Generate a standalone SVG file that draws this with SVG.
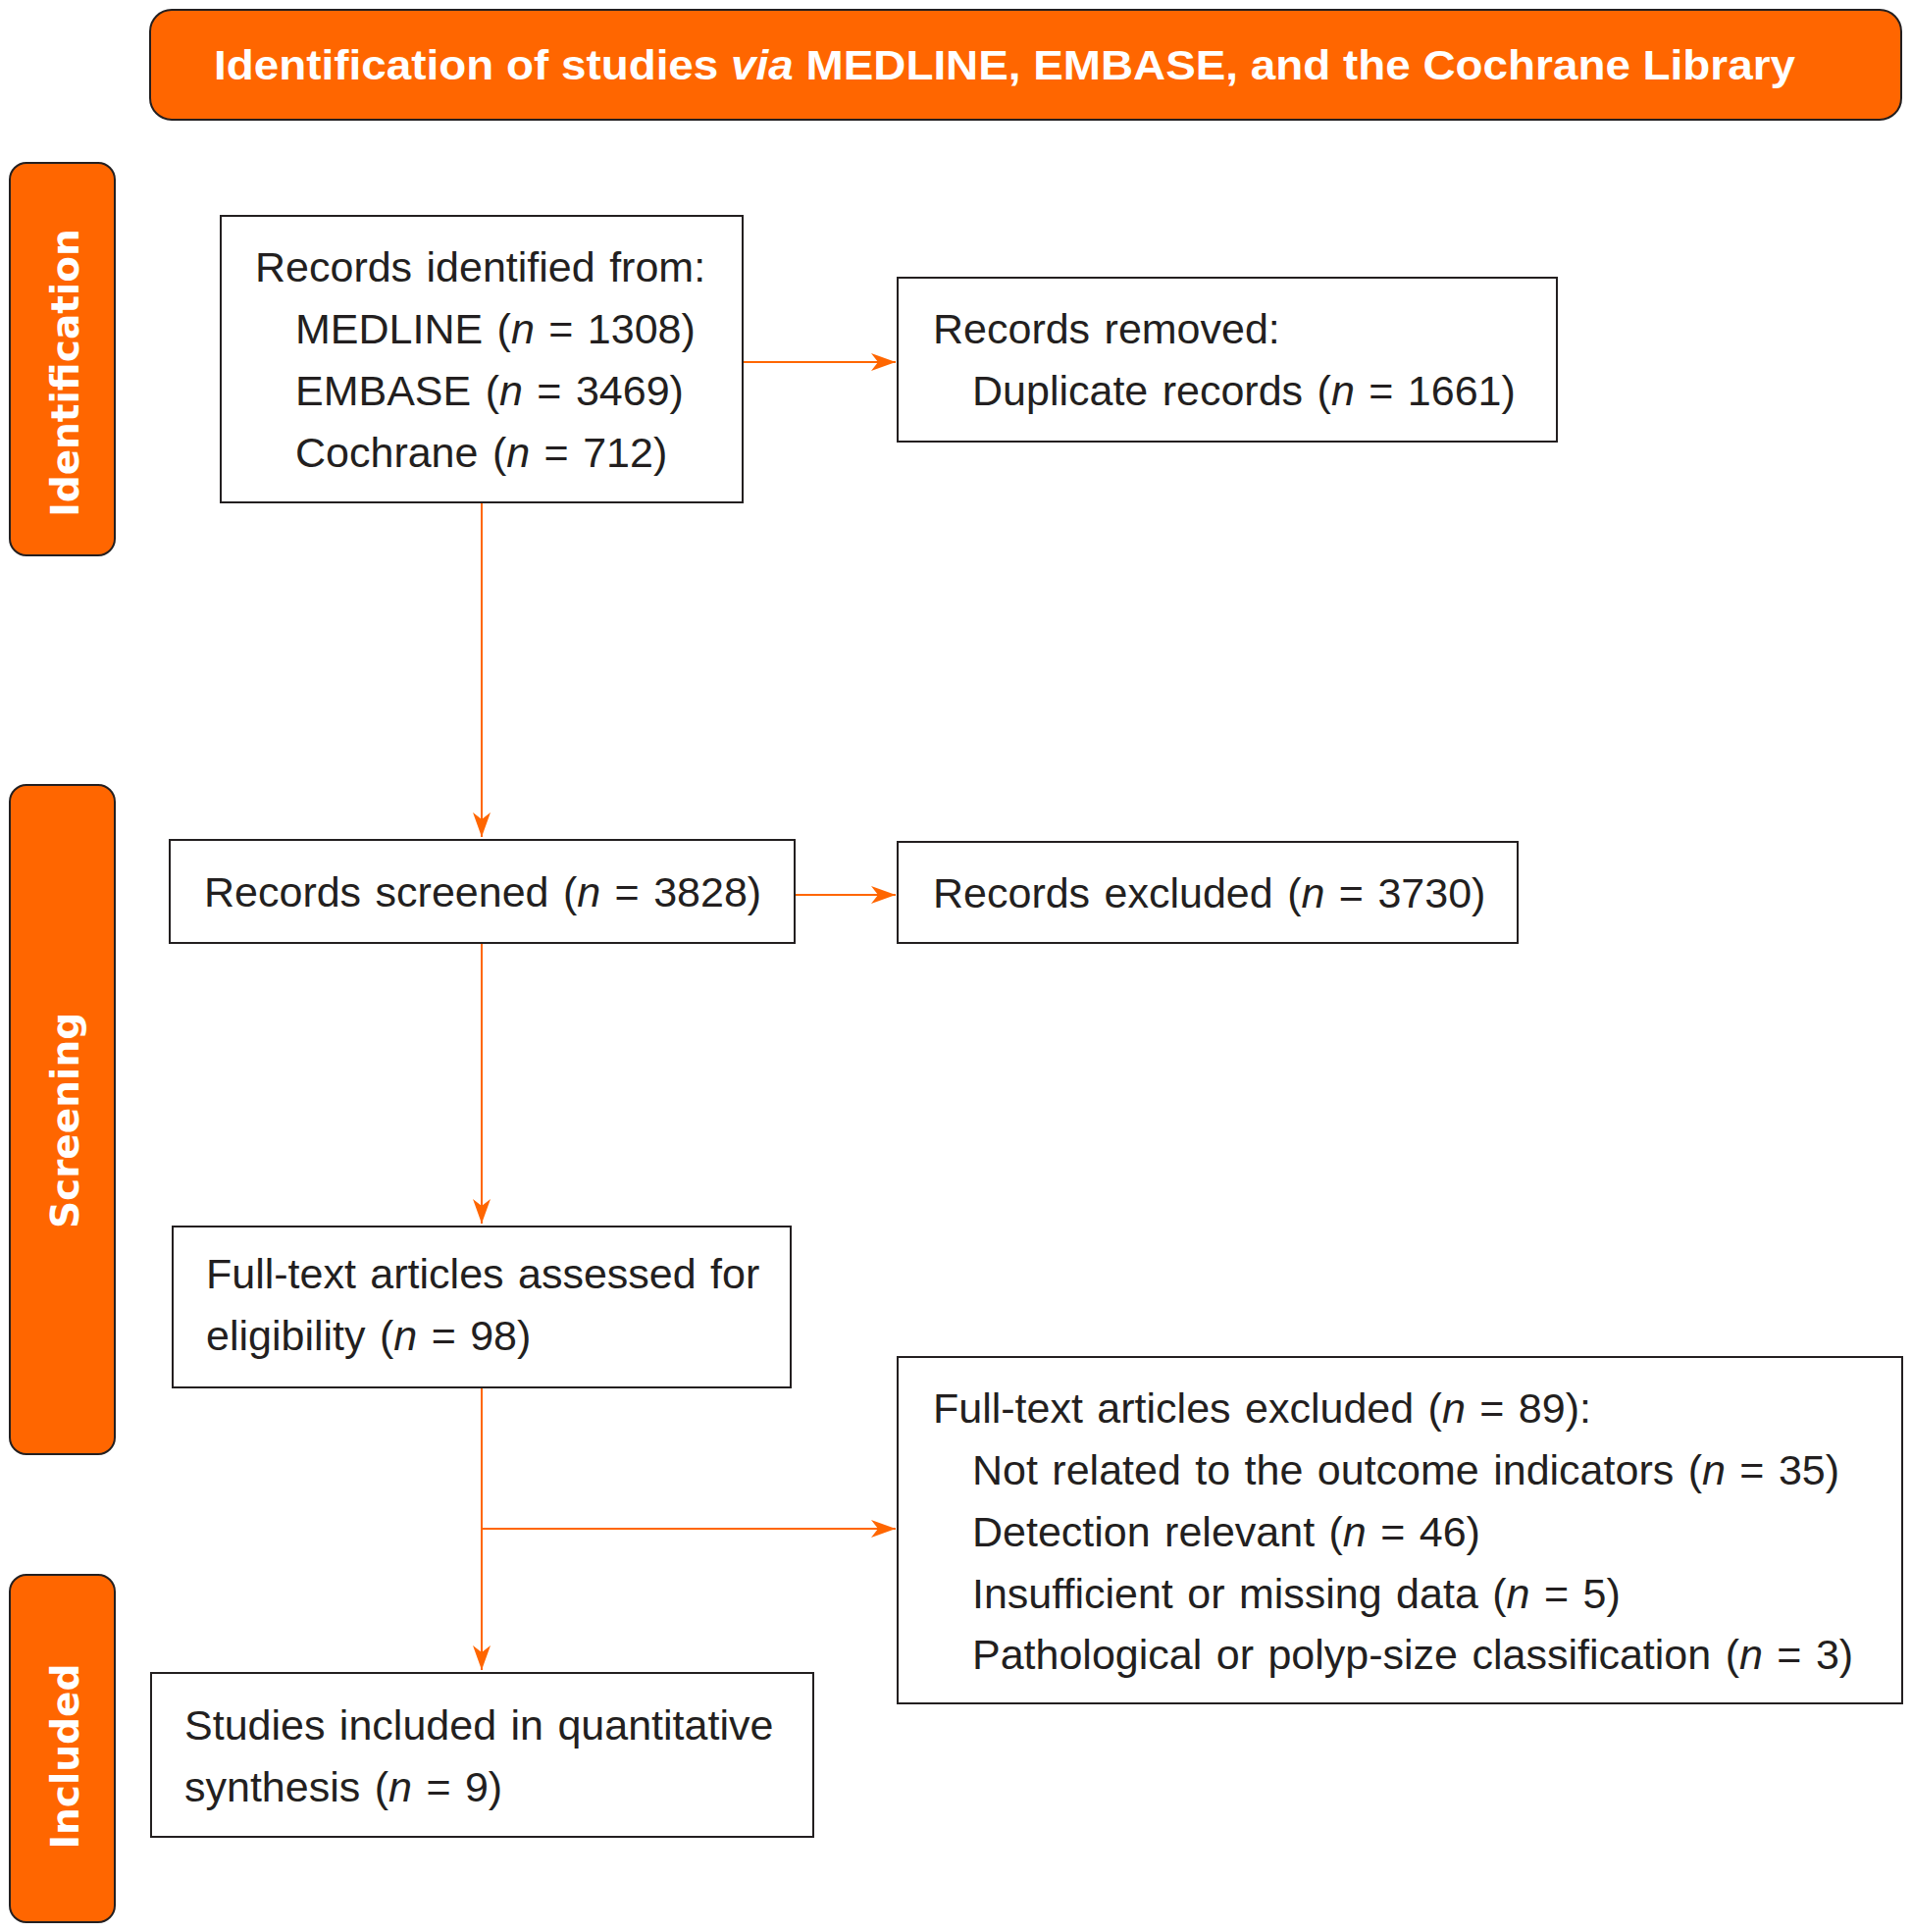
<svg xmlns="http://www.w3.org/2000/svg" width="1949" height="1969" viewBox="0 0 1949 1969">
  <style>
    .box { fill: #ffffff; stroke: #231f20; stroke-width: 2; }
    .band { fill: #ff6600; stroke: #231f20; stroke-width: 2; }
    .txt { font-family: "Liberation Sans", Arial, sans-serif; font-size: 43px; word-spacing: 2.5px; fill: #231f20; }
    .side { font-family: "DejaVu Sans", Verdana, sans-serif; font-weight: bold; font-size: 39px; fill: #ffffff; text-anchor: middle; }
    .title { font-family: "Liberation Sans", Arial, sans-serif; font-weight: bold; font-size: 42px; fill: #ffffff; }
    .conn { fill: none; stroke: #ff6600; stroke-width: 2; }
    .it { font-style: italic; }
  </style>
  <defs>
    <marker id="arr" viewBox="-26 -10 27 20" refX="0" refY="0" markerWidth="27" markerHeight="20" markerUnits="userSpaceOnUse" orient="auto">
      <path d="M0,0 L-25,-9 L-18,0 L-25,9 Z" fill="#ff6600"/>
    </marker>
  </defs>
  <rect width="1949" height="1969" fill="#ffffff"/>

  <g id="banner">
    <rect class="band" x="153" y="10" width="1785" height="112" rx="22" ry="22"/>
    <text class="title" x="218" y="81" textLength="1612" lengthAdjust="spacingAndGlyphs">Identification of studies <tspan class="it">via</tspan> MEDLINE, EMBASE, and the Cochrane Library</text>
  </g>

  <g id="side-identification">
    <rect class="band" x="10" y="166" width="107" height="400" rx="17" ry="17"/>
    <text class="side" transform="translate(80,380) rotate(-90)">Identification</text>
  </g>
  <g id="side-screening">
    <rect class="band" x="10" y="800" width="107" height="682" rx="17" ry="17"/>
    <text class="side" transform="translate(80,1142) rotate(-90)">Screening</text>
  </g>
  <g id="side-included">
    <rect class="band" x="10" y="1605" width="107" height="354" rx="17" ry="17"/>
    <text class="side" transform="translate(80,1790) rotate(-90)">Included</text>
  </g>

  <g id="connectors">
    <path class="conn" d="M491,513 V853" marker-end="url(#arr)"/>
    <path class="conn" d="M491,962 V1247" marker-end="url(#arr)"/>
    <path class="conn" d="M491,1415 V1702" marker-end="url(#arr)"/>
    <path class="conn" d="M758,369 H913" marker-end="url(#arr)"/>
    <path class="conn" d="M811,912 H913" marker-end="url(#arr)"/>
    <path class="conn" d="M491,1558 H913" marker-end="url(#arr)"/>
  </g>

  <g id="records-identified">
    <rect class="box" x="225" y="220" width="532" height="292"/>
    <text class="txt" x="260" y="287">Records identified from:</text>
    <text class="txt" x="301" y="350">MEDLINE (<tspan class="it">n</tspan> = 1308)</text>
    <text class="txt" x="301" y="413">EMBASE (<tspan class="it">n</tspan> = 3469)</text>
    <text class="txt" x="301" y="476">Cochrane (<tspan class="it">n</tspan> = 712)</text>
  </g>

  <g id="records-removed">
    <rect class="box" x="915" y="283" width="672" height="167"/>
    <text class="txt" x="951" y="350">Records removed:</text>
    <text class="txt" x="991" y="413">Duplicate records (<tspan class="it">n</tspan> = 1661)</text>
  </g>

  <g id="records-screened">
    <rect class="box" x="173" y="856" width="637" height="105"/>
    <text class="txt" x="208" y="924">Records screened (<tspan class="it">n</tspan> = 3828)</text>
  </g>

  <g id="records-excluded">
    <rect class="box" x="915" y="858" width="632" height="103"/>
    <text class="txt" x="951" y="925">Records excluded (<tspan class="it">n</tspan> = 3730)</text>
  </g>

  <g id="fulltext-assessed">
    <rect class="box" x="176" y="1250" width="630" height="164"/>
    <text class="txt" x="210" y="1313">Full-text articles assessed for</text>
    <text class="txt" x="210" y="1376">eligibility (<tspan class="it">n</tspan> = 98)</text>
  </g>

  <g id="fulltext-excluded">
    <rect class="box" x="915" y="1383" width="1024" height="353"/>
    <text class="txt" x="951" y="1450">Full-text articles excluded (<tspan class="it">n</tspan> = 89):</text>
    <text class="txt" x="991" y="1513">Not related to the outcome indicators (<tspan class="it">n</tspan> = 35)</text>
    <text class="txt" x="991" y="1576">Detection relevant (<tspan class="it">n</tspan> = 46)</text>
    <text class="txt" x="991" y="1639">Insufficient or missing data (<tspan class="it">n</tspan> = 5)</text>
    <text class="txt" x="991" y="1701">Pathological or polyp-size classification (<tspan class="it">n</tspan> = 3)</text>
  </g>

  <g id="studies-included">
    <rect class="box" x="154" y="1705" width="675" height="167"/>
    <text class="txt" x="188" y="1773">Studies included in quantitative</text>
    <text class="txt" x="188" y="1836">synthesis (<tspan class="it">n</tspan> = 9)</text>
  </g>
</svg>
